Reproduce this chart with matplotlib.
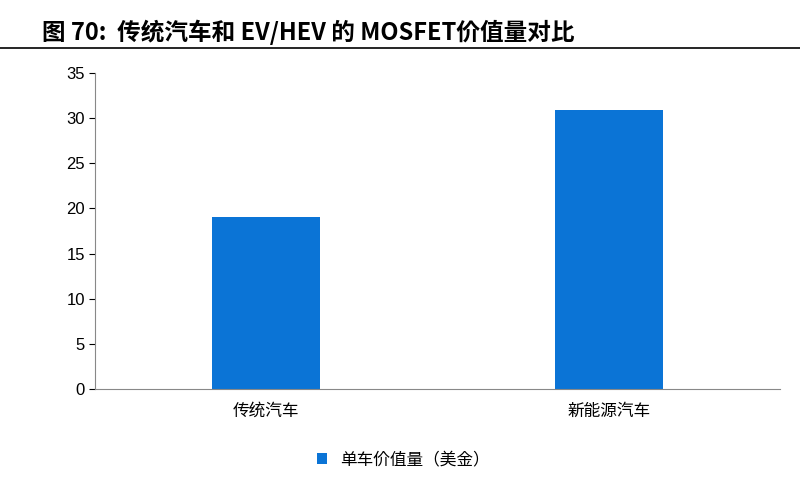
import matplotlib
matplotlib.use("Agg")
import matplotlib.pyplot as plt
from matplotlib.lines import Line2D
from matplotlib import font_manager as fm

categories = ["传统汽车", "新能源汽车"]
values = [19.0, 30.9]
series_name = "单车价值量（美金）"
yticks = [0, 5, 10, 15, 20, 25, 30, 35]

cjk = [f for f in fm.fontManager.ttflist if "CJK" in f.name]
pref = [f for f in cjk if "SC" in f.name] or cjk
cjk_name = pref[0].name if pref else "DejaVu Sans"
plt.rcParams["font.family"] = "sans-serif"
plt.rcParams["font.sans-serif"] = [cjk_name, "Liberation Sans", "DejaVu Sans"]

fig = plt.figure(figsize=(8, 4.92), dpi=100)
ax = fig.add_axes([0.119, 0.209, 0.856, 0.643])
ax.bar(range(len(categories)), values, width=0.316, color="#0B74D6", label=series_name)
ax.set_xlim(-0.5, 1.5)
ax.set_ylim(0, 35)
ax.set_yticks(yticks)
ax.set_yticklabels([str(v) for v in yticks], fontfamily="Liberation Sans")
ax.set_xticks(range(len(categories)))
ax.set_xticklabels(categories, fontsize=12)
ax.tick_params(axis="y", labelsize=12, direction="out", length=4)
ax.tick_params(axis="x", length=0, pad=10)
for s in ["top", "right"]:
    ax.spines[s].set_visible(False)
ax.spines["left"].set_color("#888888")
ax.spines["bottom"].set_color("#888888")

fig.text(0.052, 0.935, "图 70:  传统汽车和 EV/HEV 的 MOSFET价值量对比", fontsize=17,
         fontweight="bold", va="center", ha="left", fontfamily=cjk_name)
fig.add_artist(Line2D([0.0, 1.0], [0.902, 0.902], color="black", lw=1.2))
ax.legend(loc="upper center", bbox_to_anchor=(0.45, -0.15), frameon=False,
          fontsize=12, handlelength=0.6, handleheight=0.6)
fig.savefig("out.png", dpi=100)
